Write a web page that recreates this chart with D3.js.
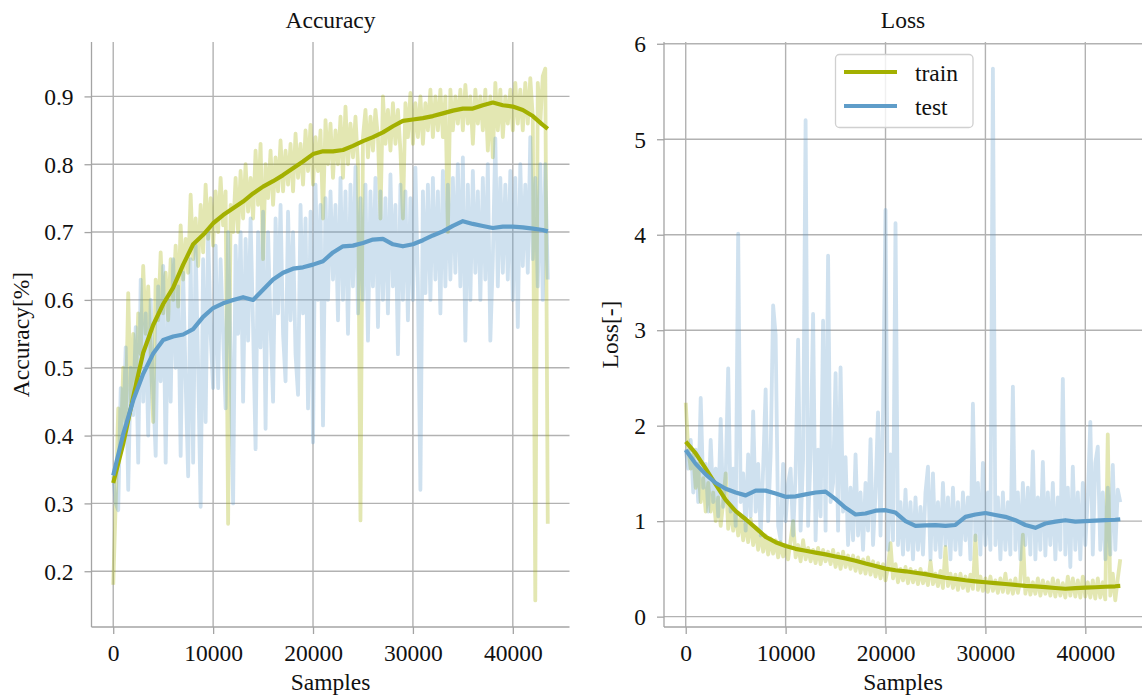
<!DOCTYPE html>
<html>
<head>
<meta charset="utf-8">
<script src="https://cdn.jsdelivr.net/npm/d3@7"></script>
<style>
  html, body { margin: 0; padding: 0; background: #fff; }
  svg { display: block; font-family: "Liberation Serif", "Times New Roman", serif; }
</style>
</head>
<body>
<svg id="chart" width="1142" height="695"></svg>
<script>
// Evaluation runs every 250 samples; raw metrics are logged at each evaluation.
const evalInterval = 250;

const accTrainRaw = [
  0.18,0.30,0.44,0.38,0.50,0.42,0.61,0.45,0.55,0.47,
  0.58,0.52,0.65,0.55,0.62,0.52,0.42,0.63,0.57,0.67,
  0.58,0.64,0.57,0.66,0.60,0.68,0.59,0.71,0.63,0.69,
  0.64,0.755,0.66,0.72,0.65,0.74,0.67,0.77,0.69,0.75,
  0.68,0.76,0.70,0.78,0.71,0.76,0.27,0.74,0.70,0.78,
  0.70,0.79,0.72,0.80,0.73,0.78,0.72,0.82,0.74,0.83,
  0.66,0.80,0.75,0.82,0.74,0.81,0.76,0.835,0.76,0.82,
  0.77,0.83,0.76,0.845,0.78,0.83,0.77,0.85,0.79,0.858,
  0.77,0.84,0.79,0.85,0.72,0.865,0.80,0.86,0.78,0.85,
  0.80,0.87,0.78,0.885,0.80,0.86,0.81,0.87,0.80,0.275,
  0.84,0.88,0.81,0.87,0.82,0.88,0.84,0.72,0.90,0.83,
  0.88,0.82,0.89,0.83,0.88,0.82,0.72,0.89,0.84,0.905,
  0.83,0.89,0.84,0.90,0.83,0.89,0.85,0.91,0.84,0.90,
  0.85,0.91,0.84,0.90,0.70,0.91,0.85,0.90,0.86,0.91,
  0.85,0.917,0.86,0.90,0.83,0.91,0.86,0.90,0.85,0.91,
  0.82,0.90,0.81,0.92,0.85,0.91,0.84,0.90,0.86,0.91,
  0.85,0.92,0.86,0.91,0.85,0.92,0.86,0.927,0.87,0.157,
  0.92,0.86,0.93,0.941,0.27
];

const accTestRaw = [
  0.34,0.30,0.29,0.47,0.40,0.53,0.32,0.50,0.43,0.56,
  0.36,0.63,0.45,0.58,0.40,0.60,0.47,0.37,0.62,0.48,
  0.65,0.36,0.60,0.45,0.66,0.50,0.62,0.37,0.64,0.48,
  0.34,0.66,0.36,0.68,0.50,0.295,0.66,0.42,0.70,0.55,
  0.47,0.68,0.47,0.66,0.55,0.44,0.70,0.52,0.30,0.68,
  0.55,0.70,0.45,0.69,0.54,0.72,0.56,0.38,0.70,0.53,
  0.73,0.41,0.70,0.56,0.45,0.72,0.58,0.74,0.55,0.48,
  0.73,0.57,0.70,0.52,0.46,0.74,0.58,0.72,0.44,0.73,
  0.39,0.77,0.60,0.74,0.415,0.75,0.60,0.76,0.63,0.74,
  0.57,0.78,0.60,0.76,0.55,0.77,0.62,0.796,0.58,0.75,
  0.60,0.77,0.54,0.76,0.62,0.78,0.56,0.76,0.60,0.75,
  0.58,0.785,0.62,0.74,0.52,0.77,0.60,0.76,0.57,0.75,
  0.60,0.795,0.62,0.32,0.76,0.61,0.77,0.60,0.78,0.63,
  0.76,0.58,0.79,0.62,0.77,0.63,0.78,0.64,0.80,0.62,
  0.81,0.54,0.77,0.60,0.79,0.64,0.76,0.60,0.78,0.63,
  0.80,0.54,0.66,0.838,0.62,0.78,0.64,0.77,0.63,0.79,
  0.60,0.78,0.56,0.80,0.65,0.77,0.64,0.84,0.66,0.78,
  0.62,0.80,0.60,0.80,0.63
];

const lossTrainRaw = [
  2.24,1.75,1.55,1.70,1.35,1.60,1.20,1.45,1.10,1.40,
  1.10,1.30,1.00,1.25,0.95,1.20,1.50,0.92,1.15,0.90,
  1.10,0.85,1.05,0.80,1.00,0.78,1.02,0.75,0.92,0.70,
  0.88,0.68,0.85,0.65,0.82,0.66,0.80,0.62,0.78,0.63,
  0.75,0.60,0.80,1.00,0.62,0.75,0.58,0.80,0.60,0.72,
  0.58,0.70,0.56,0.72,0.55,0.70,0.58,0.68,0.55,0.70,
  0.52,0.66,0.50,0.68,0.52,0.64,0.50,0.64,0.48,0.62,
  0.46,0.60,0.45,0.62,0.44,0.58,0.42,0.56,0.40,0.55,
  0.38,0.52,0.77,0.40,0.55,0.36,0.50,0.38,0.52,0.35,
  0.50,0.36,0.48,0.34,0.50,0.35,0.46,0.33,0.58,0.34,
  0.45,0.32,0.48,0.30,0.73,0.32,0.45,0.30,0.44,0.28,
  0.45,0.30,0.42,0.27,0.44,0.29,0.85,0.28,0.42,0.27,
  0.40,0.26,0.42,0.27,0.38,0.25,0.40,0.26,0.45,0.25,
  0.38,0.24,0.40,0.25,0.38,0.86,0.24,0.40,0.23,0.36,
  0.24,0.40,0.22,0.38,0.24,0.36,0.22,0.40,0.21,0.38,
  0.22,0.35,0.20,0.42,0.22,0.40,0.21,0.38,0.20,0.42,
  0.21,0.36,0.20,0.38,0.19,0.40,0.20,0.36,0.18,1.91,
  0.22,0.45,0.17,0.40,0.60
];

const lossTestRaw = [
  1.75,1.55,1.85,1.30,1.75,1.20,2.29,1.35,1.60,1.10,
  1.85,1.20,1.55,1.05,2.07,1.15,1.45,2.60,1.10,1.55,
  0.95,4.01,1.20,1.50,0.90,1.70,1.05,2.15,1.10,1.60,
  0.85,1.55,2.38,1.00,1.70,3.26,2.95,0.95,0.80,1.60,
  1.00,1.40,1.55,0.85,1.50,2.90,0.90,1.65,5.20,0.95,
  1.70,3.17,0.80,1.75,1.05,3.10,0.90,3.78,1.20,1.40,
  2.55,0.90,2.61,1.10,1.67,0.75,1.35,0.80,1.70,0.85,
  1.30,0.70,1.40,0.90,1.86,0.75,1.30,2.14,0.85,2.16,
  4.26,0.70,1.70,0.80,4.12,0.75,1.20,0.65,1.33,0.70,
  1.20,0.60,1.25,0.70,1.15,0.65,1.30,1.57,0.60,1.50,
  0.70,1.20,0.62,1.40,0.75,1.25,0.60,1.35,0.70,1.20,
  0.65,1.30,0.80,1.25,0.60,2.23,0.80,1.40,0.65,1.61,
  0.75,1.30,0.70,5.74,0.75,1.25,0.60,1.30,0.70,1.20,
  0.65,2.41,0.70,1.30,0.60,1.40,0.75,1.35,0.65,1.73,
  0.60,1.25,0.70,1.62,0.64,1.30,0.75,1.40,0.60,1.25,
  0.70,2.49,0.65,1.35,0.52,1.57,0.70,1.30,0.60,1.40,
  0.75,1.25,2.04,0.65,1.61,1.78,0.70,1.30,0.60,1.35,
  0.65,1.59,0.70,1.33,1.20
];

// Running averages, sampled every 1000 samples.
const smoothSamples = [
  0,1000,2000,3000,4000,5000,6000,7000,8000,9000,
  10000,11000,12000,13000,14000,15000,16000,17000,18000,19000,
  20000,21000,22000,23000,24000,25000,26000,27000,28000,29000,
  30000,31000,32000,33000,34000,35000,36000,37000,38000,39000,
  40000,41000,42000,43000,43500
];
const accTrainSmooth = [
  0.330,0.388,0.457,0.522,0.563,0.594,0.618,0.652,0.682,0.696,
  0.713,0.725,0.735,0.745,0.757,0.767,0.775,0.784,0.794,0.804,
  0.815,0.819,0.819,0.821,0.827,0.834,0.840,0.847,0.856,0.864,
  0.866,0.868,0.871,0.875,0.879,0.882,0.882,0.887,0.891,0.887,
  0.885,0.880,0.871,0.858,0.852
];
const accTestSmooth = [
  0.341,0.402,0.452,0.491,0.521,0.541,0.546,0.549,0.557,0.575,
  0.588,0.595,0.600,0.604,0.600,0.615,0.630,0.640,0.646,0.648,
  0.652,0.657,0.670,0.679,0.680,0.684,0.689,0.690,0.682,0.679,
  0.682,0.688,0.695,0.701,0.709,0.716,0.712,0.709,0.706,0.708,
  0.708,0.707,0.705,0.703,0.701
];
const lossTrainSmooth = [
  1.832,1.710,1.550,1.385,1.222,1.105,1.020,0.930,0.835,0.780,
  0.740,0.710,0.690,0.670,0.652,0.630,0.610,0.585,0.556,0.530,
  0.503,0.486,0.475,0.460,0.445,0.425,0.407,0.395,0.381,0.370,
  0.360,0.351,0.342,0.332,0.322,0.316,0.310,0.300,0.292,0.298,
  0.304,0.308,0.313,0.318,0.322
];
const lossTestSmooth = [
  1.745,1.600,1.490,1.400,1.340,1.300,1.270,1.320,1.320,1.290,
  1.255,1.260,1.280,1.300,1.310,1.230,1.140,1.070,1.080,1.110,
  1.115,1.090,1.000,0.950,0.955,0.958,0.950,0.960,1.045,1.070,
  1.085,1.065,1.045,1.010,0.960,0.930,0.975,0.995,1.010,0.995,
  1.000,1.005,1.010,1.015,1.020
];

const sampleTicks = [0, 10000, 20000, 30000, 40000];
const accTicks = [0.2, 0.3, 0.4, 0.5, 0.6, 0.7, 0.8, 0.9];
const lossTicks = [0, 1, 2, 3, 4, 5, 6];
const seriesNames = ["train", "test"];
const seriesColors = ["#a3b000", "#5f9dc9"];

const svg = d3.select("#chart");
const FONT = 23.5;
const GRID = "#b2b2b2";
const SPINE = "#a4a4a4";
const plotTop = 42, plotBottom = 627, plotWidth = 478;

function pairs(xs, ys) { return ys.map((v, i) => [xs[i], v]); }
const rawSamples = accTrainRaw.map((_, i) => i * evalInterval);

function padded(ext) {
  const span = ext[1] - ext[0];
  return [ext[0] - 0.05 * span, ext[1] + 0.05 * span];
}

function drawPanel(cfg) {
  const g = svg.append("g");
  const left = cfg.left, right = cfg.left + plotWidth;

  const x = d3.scaleLinear()
    .domain(padded(d3.extent(rawSamples)))
    .range([left, right]);
  const allVals = cfg.raw[0].concat(cfg.raw[1], cfg.smooth[0], cfg.smooth[1]);
  const y = d3.scaleLinear()
    .domain(padded(d3.extent(allVals)))
    .range([plotBottom, plotTop]);

  // grid
  g.append("g").selectAll("line").data(cfg.yTicks).join("line")
    .attr("x1", left).attr("x2", right)
    .attr("y1", d => y(d)).attr("y2", d => y(d))
    .attr("stroke", GRID).attr("stroke-width", 1.4);
  g.append("g").selectAll("line").data(sampleTicks).join("line")
    .attr("x1", d => x(d)).attr("x2", d => x(d))
    .attr("y1", plotTop).attr("y2", plotBottom)
    .attr("stroke", GRID).attr("stroke-width", 1.4);

  const line = d3.line().x(d => x(d[0])).y(d => y(d[1]));

  // raw curves
  cfg.raw.forEach((vals, k) => {
    g.append("path")
      .attr("d", line(pairs(rawSamples, vals)))
      .attr("fill", "none")
      .attr("stroke", seriesColors[k])
      .attr("stroke-opacity", 0.3)
      .attr("stroke-width", 3.8)
      .attr("stroke-linejoin", "round");
  });
  // running averages
  cfg.smooth.forEach((vals, k) => {
    g.append("path")
      .attr("d", line(pairs(smoothSamples, vals)))
      .attr("fill", "none")
      .attr("stroke", seriesColors[k])
      .attr("stroke-width", 4.2)
      .attr("stroke-linejoin", "round");
  });

  // axes
  const xAxis = g.append("g").attr("transform", `translate(0,${plotBottom})`)
    .call(d3.axisBottom(x).tickValues(sampleTicks).tickFormat(d3.format("d"))
      .tickSize(7).tickPadding(10));
  const yAxis = g.append("g").attr("transform", `translate(${left},0)`)
    .call(d3.axisLeft(y).tickValues(cfg.yTicks).tickFormat(cfg.fmt)
      .tickSize(7).tickPadding(11));
  [xAxis, yAxis].forEach(a => {
    a.select(".domain").remove();
    a.selectAll(".tick line").attr("stroke", SPINE).attr("stroke-width", 1.3);
    a.selectAll(".tick text").attr("fill", "#111").attr("font-size", FONT)
      .attr("font-family", "Liberation Serif, serif");
  });
  yAxis.selectAll(".tick text").attr("dy", "0.33em");

  // spines
  g.append("line").attr("x1", left).attr("x2", left).attr("y1", plotTop).attr("y2", plotBottom)
    .attr("stroke", SPINE).attr("stroke-width", 1.3);
  g.append("line").attr("x1", left).attr("x2", right).attr("y1", plotBottom).attr("y2", plotBottom)
    .attr("stroke", SPINE).attr("stroke-width", 1.3);

  const cx = (left + right) / 2;
  g.append("text").attr("x", cx).attr("y", 27.5).attr("text-anchor", "middle")
    .attr("font-size", FONT).attr("fill", "#111").text(cfg.title);
  g.append("text").attr("x", cx).attr("y", 690).attr("text-anchor", "middle")
    .attr("font-size", FONT).attr("fill", "#111").text("Samples");
  g.append("text")
    .attr("transform", `translate(${cfg.ylabelX},${(plotTop + plotBottom) / 2}) rotate(-90)`)
    .attr("text-anchor", "middle").attr("font-size", FONT).attr("fill", "#111")
    .text(cfg.ylabel);

  return { g, x, y };
}

drawPanel({
  left: 91.5, title: "Accuracy", ylabel: "Accuracy[%]", ylabelX: 29,
  yTicks: accTicks, fmt: d3.format(".1f"),
  raw: [accTrainRaw, accTestRaw], smooth: [accTrainSmooth, accTestSmooth]
});
drawPanel({
  left: 664, title: "Loss", ylabel: "Loss[-]", ylabelX: 618,
  yTicks: lossTicks, fmt: d3.format("d"),
  raw: [lossTrainRaw, lossTestRaw], smooth: [lossTrainSmooth, lossTestSmooth]
});

// legend
const lg = svg.append("g");
lg.append("rect").attr("x", 835.5).attr("y", 54.5).attr("width", 137.5).attr("height", 73)
  .attr("rx", 4).attr("fill", "#fff").attr("fill-opacity", 0.8)
  .attr("stroke", "#d0d0d0").attr("stroke-width", 1.3);
seriesNames.forEach((name, k) => {
  const yy = 72 + k * 34;
  lg.append("line").attr("x1", 844).attr("x2", 897).attr("y1", yy).attr("y2", yy)
    .attr("stroke", seriesColors[k]).attr("stroke-width", 4.2);
  lg.append("text").attr("x", 915).attr("y", yy + 8.5).attr("font-size", FONT)
    .attr("fill", "#111").text(name);
});
</script>
</body>
</html>
